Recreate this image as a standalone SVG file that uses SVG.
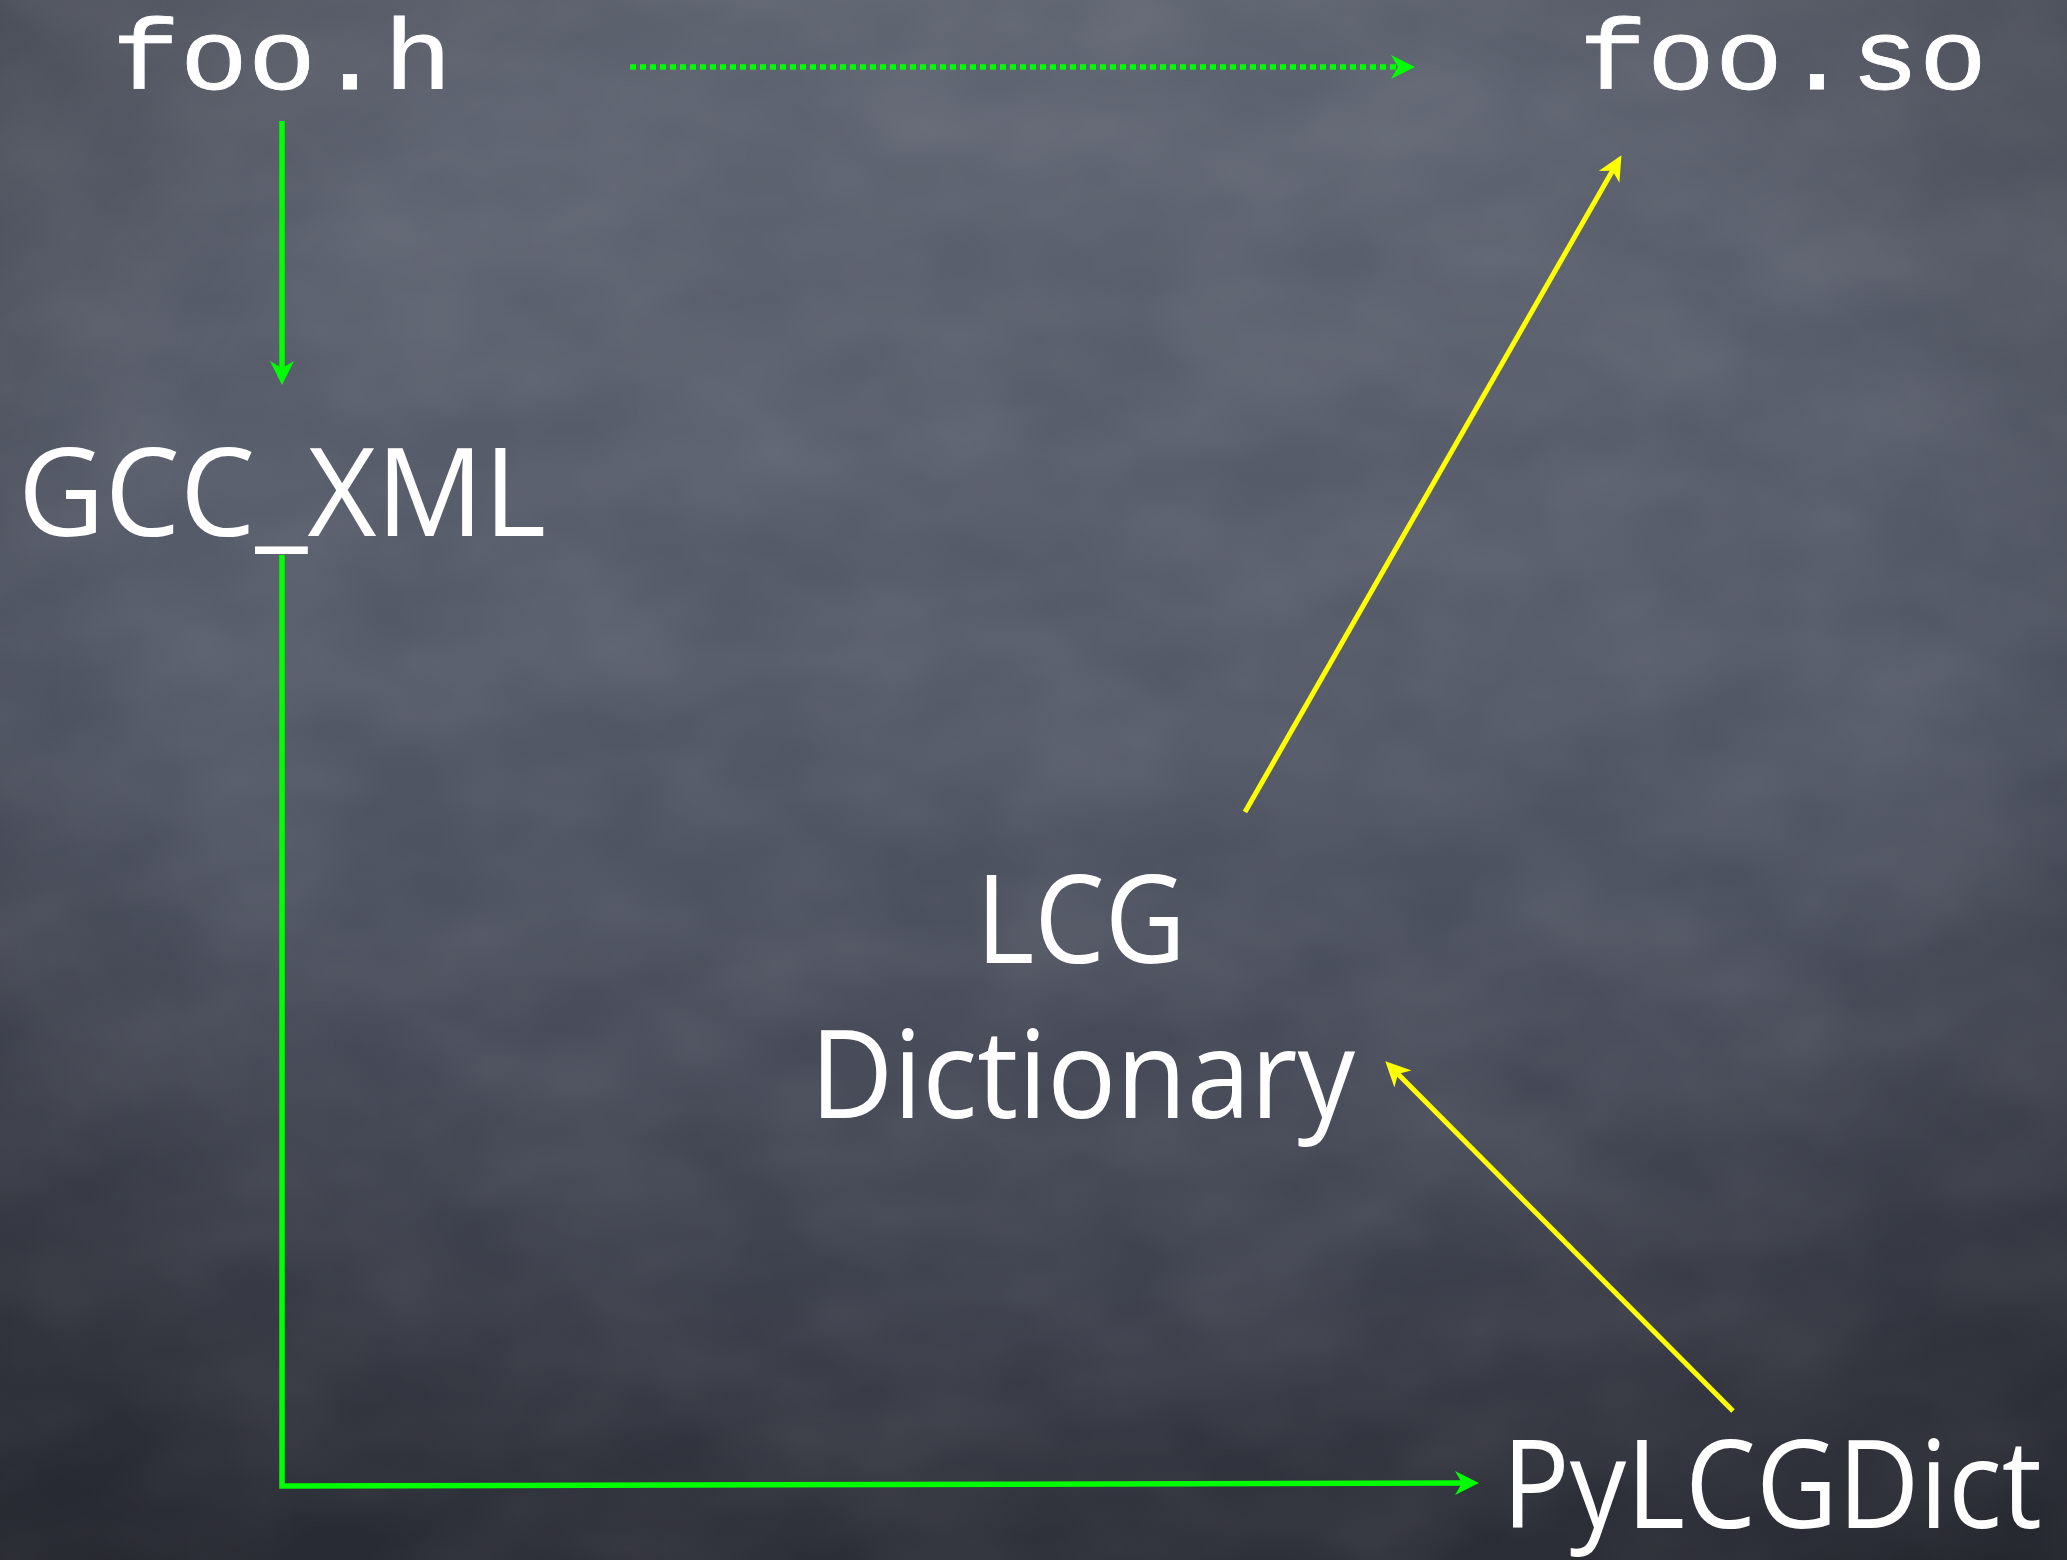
<svg xmlns="http://www.w3.org/2000/svg" width="2067" height="1560" viewBox="0 0 2067 1560">
  <defs>
    <linearGradient id="bg" x1="0" y1="0" x2="0" y2="1">
      <stop offset="0" stop-color="#5e6370"/>
      <stop offset="0.45" stop-color="#535867"/>
      <stop offset="1" stop-color="#343742"/>
    </linearGradient>
    <radialGradient id="vig" cx="0.5" cy="0.4" r="0.75">
      <stop offset="0.55" stop-color="#000" stop-opacity="0"/>
      <stop offset="1" stop-color="#000" stop-opacity="0.3"/>
    </radialGradient>
    <filter id="chalk" x="0" y="0" width="1" height="1">
      <feTurbulence type="fractalNoise" baseFrequency="0.006 0.01" numOctaves="3" seed="7"/>
      <feColorMatrix type="matrix" values="0 0 0 0 1  0 0 0 0 1  0 0 0 0 1  0 0 0 0.12 -0.03"/>
    </filter>
    <marker id="ahG" viewBox="0 0 24 24" refX="7" refY="12" markerWidth="24" markerHeight="24" markerUnits="userSpaceOnUse" orient="auto">
      <path d="M0,0 L24,12 L0,24 L7,12 Z" fill="#00ff00"/>
    </marker>
    <marker id="ahY" viewBox="0 0 25 24" refX="7" refY="12" markerWidth="25" markerHeight="24" markerUnits="userSpaceOnUse" orient="auto">
      <path d="M0,0 L25,12 L0,24 L7,12 Z" fill="#ffff00"/>
    </marker>
  </defs>
  <style>
    .mono { font-family: "Liberation Mono", "Courier New", monospace; font-size: 100px; fill: #ffffff; stroke: #ffffff; stroke-width: 0.8px; }
    .hand { font-family: "Open Sans", "Noto Sans", sans-serif; font-size: 122px; fill: #ffffff; }
    .g { fill: none; stroke: #00ff00; stroke-width: 5.5; }
    .y { fill: none; stroke: #ffff00; stroke-width: 5; }
  </style>

  <rect x="0" y="0" width="2067" height="1560" fill="url(#bg)"/>
  <rect x="0" y="0" width="2067" height="1560" filter="url(#chalk)"/>
  <rect x="0" y="0" width="2067" height="1560" fill="url(#vig)"/>

  <g id="connectors">
    <line class="g" x1="282" y1="121" x2="282" y2="368" marker-end="url(#ahG)"/>
    <line class="g" x1="630" y1="67" x2="1398" y2="67" stroke-dasharray="6 4" marker-end="url(#ahG)"/>
    <polyline class="g" points="282,555 282,1486 1462,1483" marker-end="url(#ahG)"/>
    <line class="y" x1="1245" y1="812" x2="1612.5" y2="170.8" marker-end="url(#ahY)"/>
    <line class="y" x1="1733" y1="1411" x2="1398" y2="1074" marker-end="url(#ahY)"/>
  </g>

  <g id="foo_h">
    <text class="mono" x="112" y="89" textLength="340" lengthAdjust="spacingAndGlyphs">foo.h</text>
  </g>
  <g id="foo_so">
    <text class="mono" x="1579" y="89" textLength="408" lengthAdjust="spacingAndGlyphs">foo.so</text>
  </g>
  <g id="gcc_xml">
    <text class="hand" x="18" y="536" textLength="528" lengthAdjust="spacingAndGlyphs">GCC_XML</text>
  </g>
  <g id="lcg_dictionary">
    <text class="hand" x="976" y="963" textLength="210" lengthAdjust="spacingAndGlyphs">LCG</text>
    <text class="hand" x="810" y="1118" textLength="545" lengthAdjust="spacingAndGlyphs">Dictionary</text>
  </g>
  <g id="pylcgdict">
    <text class="hand" x="1502" y="1528" textLength="540" lengthAdjust="spacingAndGlyphs">PyLCGDict</text>
  </g>
</svg>
